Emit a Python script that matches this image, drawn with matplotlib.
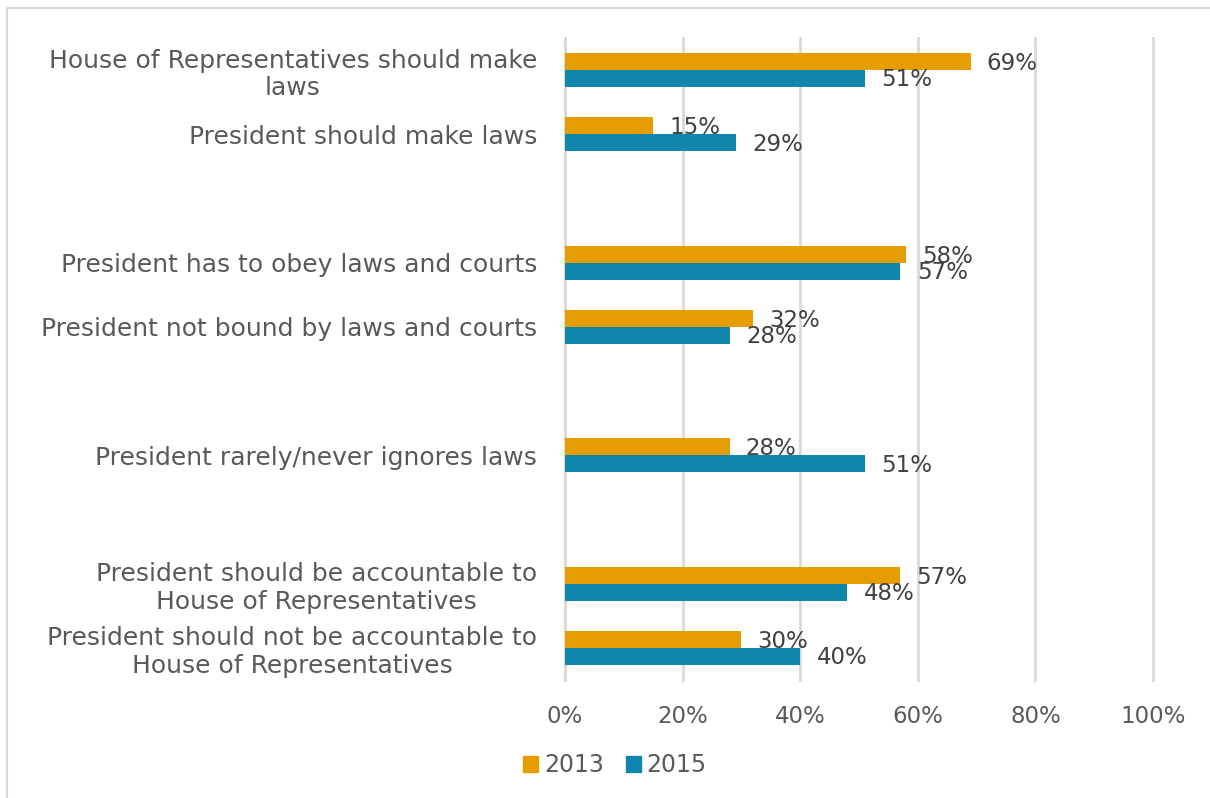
import matplotlib

matplotlib.use("Agg")
import matplotlib.pyplot as plt
from matplotlib.patches import Patch, Rectangle
import numpy as np

# survey statements, grouped by topic (a blank row separates each topic)
groups = [
    ["House of Representatives should make\nlaws", "President should make laws"],
    ["President has to obey laws and courts", "President not bound by laws and courts"],
    ["President rarely/never ignores laws"],
    ["President should be accountable to\nHouse of Representatives",
     "President should not be accountable to\nHouse of Representatives"],
]
years = ["2013", "2015"]
share_2013 = [69, 15, 58, 32, 28, 57, 30]
share_2015 = [51, 29, 57, 28, 51, 48, 40]
ticks = [0, 20, 40, 60, 80, 100]

ORANGE = "#E69D00"
BLUE = "#1186AD"
GRID = "#D9D9D9"
TEXT = "#595959"
VALUE_TEXT = "#404040"

plt.rcParams["font.family"] = ["DejaVu Sans"]

labels = []
rows = []
row = 0
for group in groups:
    for name in group:
        labels.append(name)
        rows.append(row)
        row += 1
    row += 1
n_rows = row - 1
rows = np.array(rows, dtype=float)

fig = plt.figure(figsize=(12.10, 7.98), dpi=100)
fig.patches.append(Rectangle((7 / 1210, -0.01), 1.02, 1 - 8 / 798 + 0.01, transform=fig.transFigure,
                             fill=False, edgecolor=GRID, linewidth=1.5))

ax = fig.add_axes([565 / 1210, 1 - 680 / 798, 588 / 1210, 642 / 798])
bar_h = 0.265
ax.barh(rows - bar_h / 2, share_2013, height=bar_h, color=ORANGE, zorder=3)
ax.barh(rows + bar_h / 2, share_2015, height=bar_h, color=BLUE, zorder=3)

for y, value in zip(rows, share_2013):
    ax.annotate(f"{value}%", (value, y - bar_h / 2), xytext=(11.5, -1.5), textcoords="offset points",
                ha="left", va="center", fontsize=16.5, color=VALUE_TEXT, zorder=4)
for y, value in zip(rows, share_2015):
    ax.annotate(f"{value}%", (value, y + bar_h / 2), xytext=(12, -1), textcoords="offset points",
                ha="left", va="center", fontsize=16.5, color=VALUE_TEXT, zorder=4)

ax.set_xlim(0, 100)
ax.set_ylim(n_rows - 0.5, -0.5)
ax.set_xticks(ticks)
ax.set_xticklabels([f"{t}%" for t in ticks])
ax.set_yticks(rows)
ax.set_yticklabels(labels, multialignment="center")
ax.tick_params(axis="x", length=0, pad=18, labelsize=16.5, labelcolor=TEXT)
ax.tick_params(axis="y", length=0, pad=20, labelsize=18, labelcolor=TEXT)
ax.grid(axis="x", color=GRID, linewidth=2, zorder=0)
for line in ax.get_xgridlines():
    line.set_clip_on(False)
for side in ["top", "right", "bottom"]:
    ax.spines[side].set_visible(False)
ax.spines["left"].set_color(GRID)
ax.spines["left"].set_linewidth(2)

handles = [Patch(color=ORANGE), Patch(color=BLUE)]
fig.legend(handles, years, loc="center", bbox_to_anchor=(615 / 1210, 1 - 765 / 798), ncol=2, frameon=False,
           fontsize=17, labelcolor=TEXT, handlelength=0.65, handleheight=0.65, handletextpad=0.25,
           columnspacing=0.9)

fig.savefig("out.png", dpi=100)
